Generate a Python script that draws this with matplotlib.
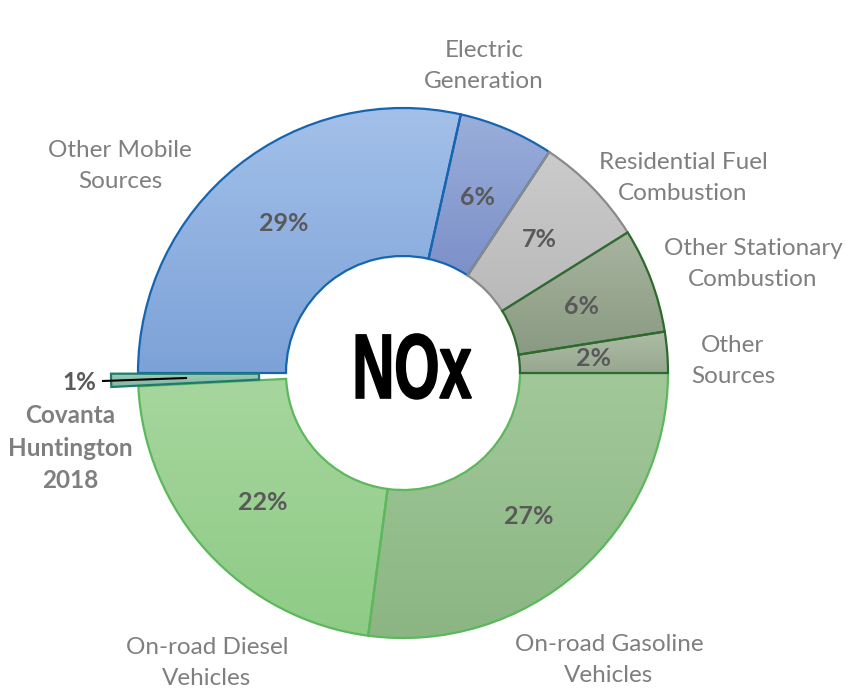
import matplotlib
matplotlib.use("Agg")
import matplotlib.pyplot as plt
import matplotlib.patheffects as pe
from matplotlib.colors import to_rgb
from matplotlib.transforms import Affine2D
import numpy as np

# ---------------- data ----------------
categories = ["Other Sources", "Other Stationary Combustion", "Residential Fuel Combustion",
              "Electric Generation", "Other Mobile Sources", "Covanta Huntington 2018",
              "On-road Diesel Vehicles", "On-road Gasoline Vehicles"]
values = [2.5, 6.4, 6.8, 5.8, 28.5, 0.8, 22.1, 27.1]
pct_labels = ["2%", "6%", "7%", "6%", "29%", "1%", "22%", "27%"]

# ---------------- styling ----------------
top_colors = ["#aebca6", "#a8b4a0", "#cbcbcb", "#9aaedb", "#a2c0e9",
              "#9accba", "#a6d69d", "#a2c89a"]
bottom_colors = ["#98a890", "#8a9a82", "#b9b9b9", "#7d90c8", "#7da2d8",
                 "#86b6a4", "#8fcb86", "#8bb683"]
edge_colors = ["#2d6a2d", "#2d6a2d", "#8a8a8a", "#1565b0", "#1565b0",
               "#1e7b6a", "#5cb85c", "#5cb85c"]
zorders = [8, 7, 6, 5, 4, 4, 3, 3]
explode_px = [0, 0, 0, 0, 0, 27, 0, 0]

W, H = 846, 692
cx, cy = 403, H - 373
R, ring_w = 265, 148

plt.rcParams['font.family'] = ['Lato', 'DejaVu Sans']


class Squeeze(pe.AbstractPathEffect):
    """Horizontally condense (and embolden) text to a target width in pixels."""
    def __init__(self, target_width, stroke_pt=0.0):
        super().__init__()
        self.target_width = target_width
        self.stroke_pt = stroke_pt

    def draw_path(self, renderer, gc, tpath, affine, rgbFace=None):
        bb = tpath.get_extents(affine)
        sx = self.target_width / bb.width if bb.width > 0 else 1.0
        xc = 0.5 * (bb.x0 + bb.x1)
        t = affine + Affine2D().translate(-xc, 0).scale(sx, 1).translate(xc, 0)
        gc0 = renderer.new_gc()
        gc0.copy_properties(gc)
        if self.stroke_pt > 0:
            gc0.set_linewidth(self.stroke_pt)
            gc0.set_foreground(rgbFace if rgbFace is not None else 'black')
            gc0.set_joinstyle('miter')
        renderer.draw_path(gc0, tpath, t, rgbFace)
        gc0.restore()


fig = plt.figure(figsize=(W / 100, H / 100), dpi=100)
ax = fig.add_axes([0, 0, 1, 1])

wedges, _ = ax.pie(values, radius=R, center=(cx, cy), startangle=0, counterclock=True,
                   explode=explode_px, colors=bottom_colors,
                   wedgeprops=dict(width=ring_w, linewidth=1.6))

for w, ec, z, ctop, cbot in zip(wedges, edge_colors, zorders, top_colors, bottom_colors):
    w.set_edgecolor(ec)
    w.set_zorder(z)
    ext = w.get_path().get_extents()
    t = np.linspace(0, 1, 64)[:, None]
    grad = (1 - t) * np.array(to_rgb(ctop)) + t * np.array(to_rgb(cbot))
    img = ax.imshow(grad[:, None, :], extent=(ext.x0, ext.x1, ext.y0, ext.y1),
                    origin='upper', aspect='auto', interpolation='bilinear', zorder=1)
    img.set_clip_path(w)
    w.set_facecolor('none')

ax.set_xlim(0, W)
ax.set_ylim(0, H)
ax.set_aspect('equal')
ax.axis('off')

# percentage labels inside the ring
total = sum(values)
cum = np.cumsum(values)
for i, (v, lab) in enumerate(zip(values, pct_labels)):
    if categories[i].startswith("Covanta"):
        continue
    ang = np.deg2rad(360 * (cum[i] - v / 2) / total)
    r = R - ring_w / 2
    ax.text(cx + r * np.cos(ang), cy + r * np.sin(ang), lab, ha='center', va='center',
            fontsize=18, fontweight='bold', color='#595959', zorder=10)

# category labels outside
label_pos = {
    "Electric Generation": (484, 66, "Electric\nGeneration"),
    "Other Mobile Sources": (120, 166, "Other Mobile\nSources"),
    "Residential Fuel Combustion": (683, 178, "Residential Fuel\nCombustion"),
    "Other Stationary Combustion": (753, 264, "Other Stationary\nCombustion"),
    "Other Sources": (733, 361, "Other\nSources"),
    "On-road Gasoline Vehicles": (609, 660, "On-road Gasoline\nVehicles"),
    "On-road Diesel Vehicles": (207, 663, "On-road Diesel\nVehicles"),
}
for cat in categories:
    if cat in label_pos:
        x, y, txt = label_pos[cat]
        ax.text(x, H - y, txt, ha='center', va='center', fontsize=17.5, color='#7f7f7f',
                linespacing=1.55)

# Covanta callout
ci = categories.index("Covanta Huntington 2018")
ax.text(96, H - 382, pct_labels[ci], ha='right', va='center', fontsize=17.5,
        fontweight='bold', color='#595959')
ax.plot([103, 186], [H - 381, H - 378], color='black', lw=1.5, zorder=10)
ax.text(70, H - 448, "Covanta\nHuntington\n2018", ha='center', va='center', fontsize=17.5,
        fontweight='bold', color='#7f7f7f', linespacing=1.5)

# center title
ax.text(411, H - 398, "NOx", ha='center', va='baseline', fontsize=66,
        fontweight='bold', family=['Liberation Sans Narrow', 'Liberation Sans', 'DejaVu Sans'],
        color='black', path_effects=[Squeeze(115, stroke_pt=1.2)], zorder=10)

fig.savefig("out.png", dpi=100)
